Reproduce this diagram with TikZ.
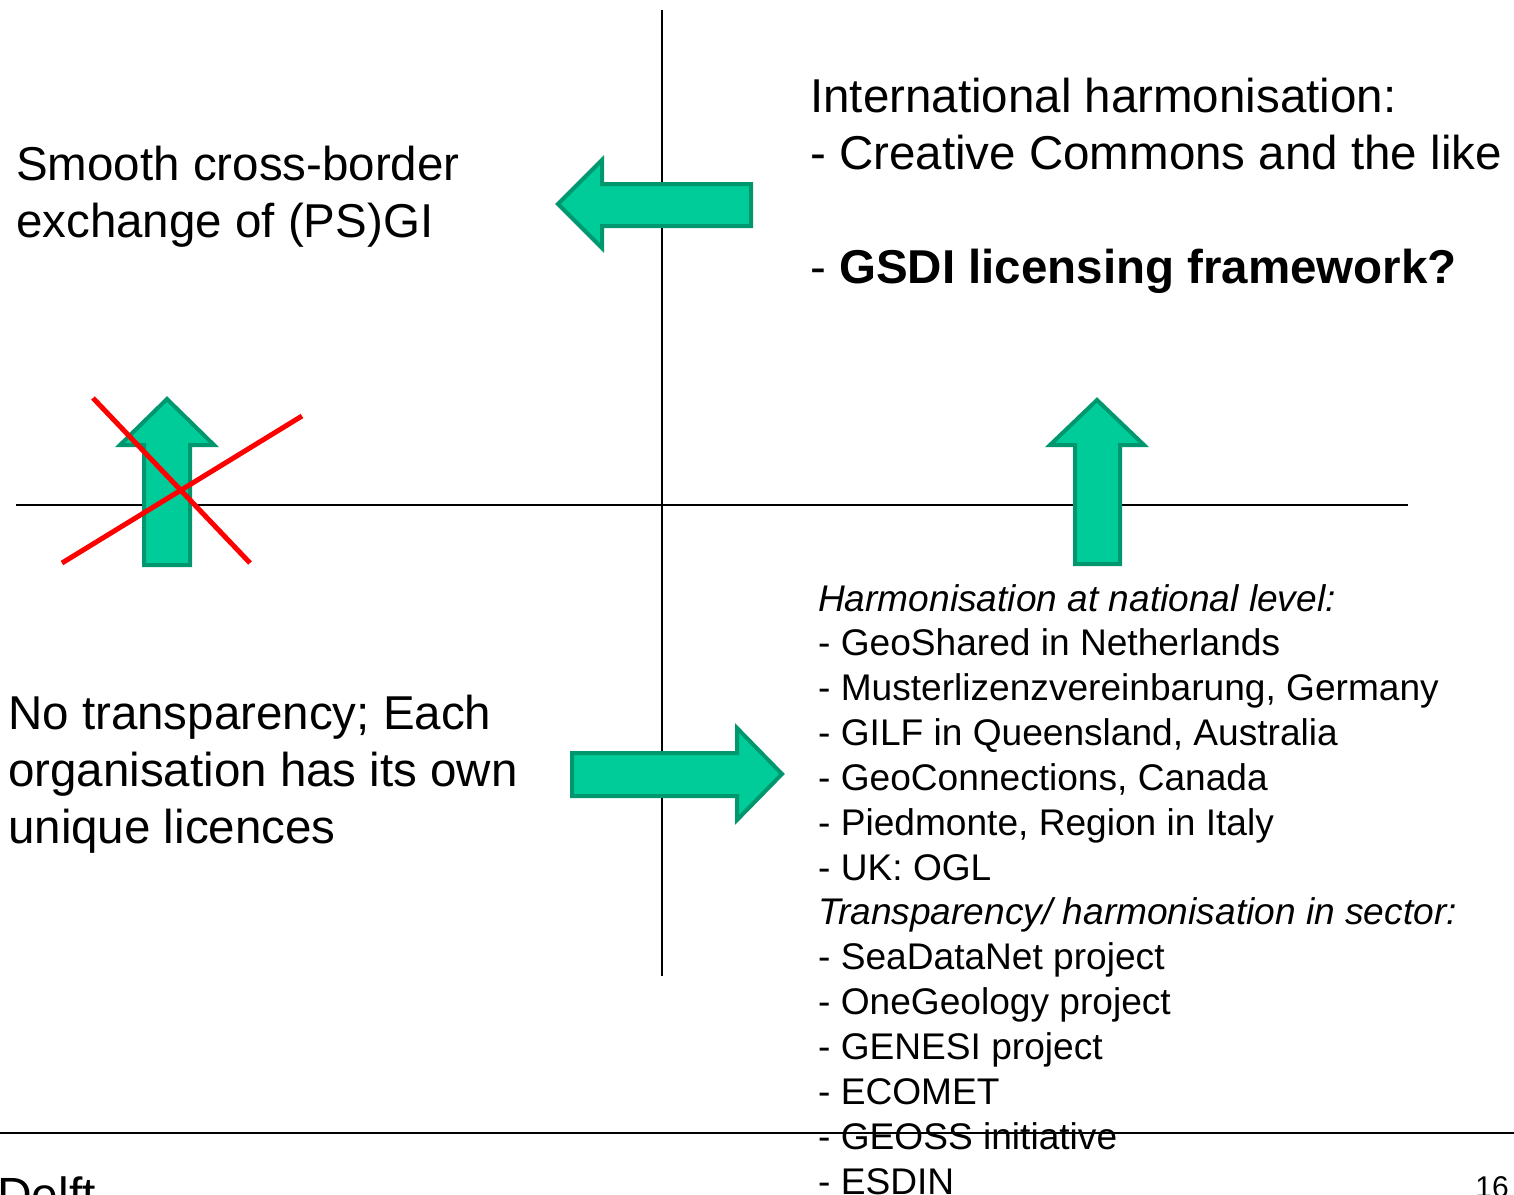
\documentclass[tikz,border=0pt]{standalone}
\usepackage{fontspec}
\setmainfont{Liberation Sans}
\usepackage{tikz}

\definecolor{arrowfill}{RGB}{0,204,153}
\definecolor{arrowedge}{RGB}{0,150,110}

\tikzset{
  bigtext/.style={font=\fontsize{47.5}{57}\selectfont, anchor=base west, inner sep=0pt, align=left},
  listtext/.style={font=\fontsize{37.1}{45}\selectfont, anchor=base west, inner sep=0pt},
  blockarrow/.style={fill=arrowfill, draw=arrowedge, line width=4pt, line join=miter},
  axisline/.style={line width=2pt},
  crossline/.style={red, line width=5pt}
}

\begin{document}
\begin{tikzpicture}[x=1pt, y=-1pt]
    \useasboundingbox (0,0) rectangle (1514,1194);

    % axes
    \coordinate (vtop) at (662,10);
    \coordinate (vbot) at (662,976);
    \coordinate (hleft) at (16,505);
    \coordinate (hright) at (1408,505);
    \draw[axisline] (vtop) -- (vbot);
    \draw[axisline] (hleft) -- (hright);

    % block arrows
    \draw[blockarrow] (558,204) -- (602,160) -- (602,184) -- (751,184)
      -- (751,226) -- (602,226) -- (602,248) -- cycle;
    \draw[blockarrow] (572,753) -- (737,753) -- (737,728) -- (782,774)
      -- (737,820) -- (737,796) -- (572,796) -- cycle;
    \draw[blockarrow] (167,399) -- (214,445) -- (190,445) -- (190,565)
      -- (144,565) -- (144,445) -- (120,445) -- cycle;
    \draw[blockarrow] (1097,400) -- (1144,445) -- (1120,445) -- (1120,564)
      -- (1075,564) -- (1075,445) -- (1050,445) -- cycle;

    % crossed out
    \draw[crossline] (93,398) -- (250,563);
    \draw[crossline] (62,563) -- (302,416);

    % texts (base = last line)
    \node[bigtext] (smooth) at (16,237) {Smooth cross-border\\exchange of (PS)GI};
    \node[bigtext] (intl) at (810,283) {International harmonisation:\\- Creative Commons and the like\\[57pt]- \textbf{GSDI licensing framework?}};
    \node[bigtext] (notrans) at (8,843) {No transparency; Each\\organisation has its own\\unique licences};

    \foreach \entry [count=\i from 0] in {{\itshape Harmonisation at national level:},
      {- GeoShared in Netherlands}, {- Musterlizenzvereinbarung, Germany},
      {- GILF in Queensland, Australia}, {- GeoConnections, Canada},
      {- Piedmonte, Region in Italy}, {- UK: OGL},
      {\itshape Transparency/ harmonisation in sector:},
      {- SeaDataNet project}, {- OneGeology project}, {- GENESI project},
      {- ECOMET}, {- GEOSS initiative}, {- ESDIN}}
      \node[listtext] (entry-\i) at (818,{611+44.85*\i}) {\entry};

    % footer
    \coordinate (fleft) at (0,1133);
    \coordinate (fright) at (1514,1133);
    \draw[line width=2.5pt] (fleft) -- (fright);
    \node[font=\fontsize{48}{58}\selectfont, anchor=base west, inner sep=0pt] (delft) at (-3,1211) {Delft};
    \node[font=\fontsize{30}{36}\selectfont, anchor=base east, inner sep=0pt] (pagenum) at (1509,1197) {16};
\end{tikzpicture}
\end{document}
